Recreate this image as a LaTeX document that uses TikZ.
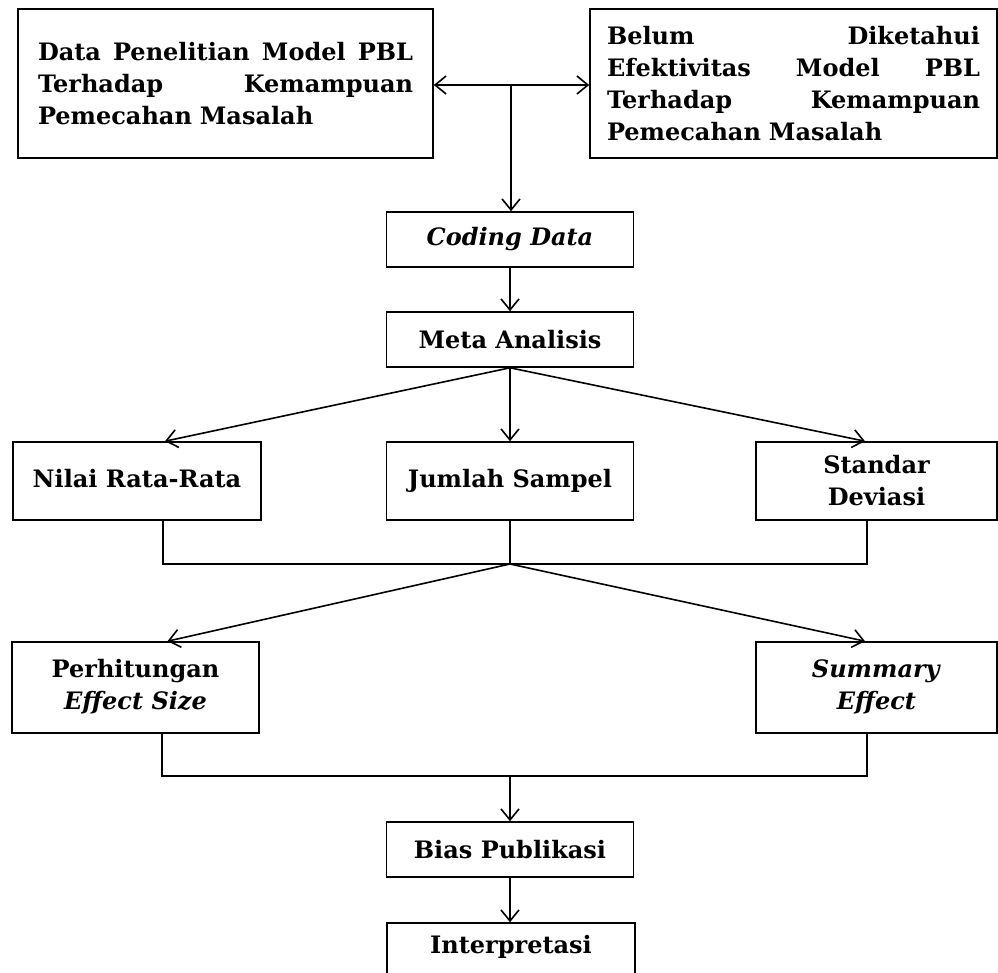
\documentclass[tikz,border=0pt]{standalone}
\usepackage{fontspec}
\setmainfont{DejaVu Serif}
\usetikzlibrary{arrows.meta,calc}
\begin{document}
\begin{tikzpicture}[x=1pt,y=-1pt,
  box/.style={draw, line width=1.6pt, inner sep=0pt, align=center,
    font=\fontsize{24}{32}\selectfont\bfseries},
  wide/.style={box, align=left},
  arr/.style={line width=1.6pt, -{Straight Barb[length=11pt,width=18pt,line width=1.6pt]}},
  darr/.style={line width=1.6pt, {Straight Barb[length=11pt,width=18pt,line width=1.6pt]}-{Straight Barb[length=11pt,width=18pt,line width=1.6pt]}},
  ln/.style={line width=1.6pt}]
\clip (0,0) rectangle (998,973);
\fill[white] (0,0) rectangle (998,973);
% top boxes
\node[wide, minimum width=415pt, minimum height=149pt, text width=375pt] (b1) at (225.5,83.5)
  {Data\hfill Penelitian\hfill Model\hfill PBL\\Terhadap\hfill Kemampuan\\Pemecahan Masalah};
\node[wide, minimum width=407pt, minimum height=149pt, text width=373pt] (b2) at (793.5,83.5)
  {Belum\hfill Diketahui\\Efektivitas\hfill Model\hfill PBL\\Terhadap\hfill Kemampuan\\Pemecahan Masalah};
% chain
\node[box, minimum width=247pt, minimum height=55pt] (coding) at (510,239.5) {\textit{Coding Data}};
\node[box, minimum width=247pt, minimum height=55pt] (meta) at (510,339.5) {Meta Analisis};
\node[box, minimum width=248pt, minimum height=78pt] (nilai) at (137,481) {\raisebox{6pt}{Nilai Rata-Rata}};
\node[box, minimum width=247pt, minimum height=78pt] (jumlah) at (510,481) {\raisebox{6pt}{Jumlah Sampel}};
\node[box, minimum width=241pt, minimum height=78pt] (standar) at (876.5,481) {Standar\\Deviasi};
\node[box, minimum width=247pt, minimum height=91pt] (perh) at (135.5,687.5)
  {\raisebox{6pt}{\begin{tabular}{@{}c@{}}Perhitungan\\\textit{Effect Size}\end{tabular}}};
\node[box, minimum width=241pt, minimum height=91pt] (summ) at (876.5,687.5)
  {\raisebox{6pt}{\begin{tabular}{@{}c@{}}\textit{Summary}\\\textit{Effect}\end{tabular}}};
\node[box, minimum width=247pt, minimum height=55pt] (bias) at (510,849.5) {Bias Publikasi};
\node[box, minimum width=248pt, minimum height=100pt] (interp) at (511,973) {};
\node[font=\fontsize{24}{32}\selectfont\bfseries, inner sep=0pt] (interpT) at (511,947) {Interpretasi};
% junctions
\coordinate (j1) at (511,85);
\coordinate (bus1) at (510,564);
\coordinate (bus2) at (510,776);
% connectors
\draw[darr] (j1 -| b1.east) -- (j1 -| b2.west);
\draw[arr] (j1) -- (j1 |- coding.north);
\draw[arr] (coding.south) -- (meta.north);
\draw[arr] (meta.south) -- ([xshift=28pt]nilai.north);
\draw[arr] (meta.south) -- (jumlah.north);
\draw[arr] (meta.south) -- ([xshift=-11.5pt]standar.north);
\draw[ln] ([xshift=26pt]nilai.south) |- (bus1) -| ([xshift=-9.5pt]standar.south);
\draw[ln] (jumlah.south) -- (bus1);
\draw[arr] (bus1) -- ([xshift=32pt]perh.north);
\draw[arr] (bus1) -- ([xshift=-11.5pt]summ.north);
\draw[ln] ([xshift=26.5pt]perh.south) |- (bus2) -| ([xshift=-9.5pt]summ.south);
\draw[arr] (bus2) -- (bias.north);
\draw[arr] (bias.south) -- (bias.south |- interp.north);
\end{tikzpicture}
\end{document}
